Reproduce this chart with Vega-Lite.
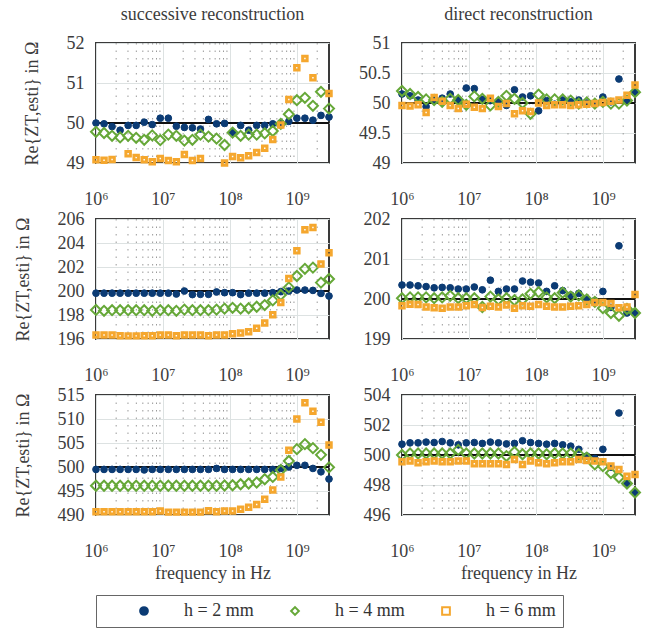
{
"$schema": "https://vega.github.io/schema/vega-lite/v6.json",
"background": "white",
"padding": {"left": 13, "top": 5, "right": 5, "bottom": 2},
"config": {
  "font": "Liberation Serif",
  "view": {"stroke": "#3a3a3a", "strokeWidth": 2},
  "axis": {"labelFont": "Liberation Serif", "titleFont": "Liberation Serif", "labelFontSize": 18, "titleFontSize": 18, "labelColor": "#3c3c3c", "titleColor": "#3c3c3c", "titleFontWeight": "normal", "domain": false, "ticks": false, "gridColor": "#dde2e2", "gridWidth": 1},
  "axisX": {"labelPadding": 27, "titlePadding": 4, "labelFlush": false},
  "axisY": {"labelPadding": 12, "titlePadding": 25},
  "title": {"font": "Liberation Serif", "fontSize": 18, "fontWeight": "normal", "color": "#3c3c3c", "frame": "group", "offset": 10},
  "legend": {"labelFont": "Liberation Serif", "labelFontSize": 18, "labelColor": "#333333", "strokeColor": "#666666", "padding": 7, "symbolStrokeWidth": 2, "symbolSize": 60, "symbolOffset": 32, "labelOffset": 31, "columnPadding": -5}
},
"datasets": {
"m": [{"f":2e6},{"f":3e6},{"f":4e6},{"f":5e6},{"f":6e6},{"f":7e6},{"f":8e6},{"f":9e6},{"f":2e7},{"f":3e7},{"f":4e7},{"f":5e7},{"f":6e7},{"f":7e7},{"f":8e7},{"f":9e7},{"f":2e8},{"f":3e8},{"f":4e8},{"f":5e8},{"f":6e8},{"f":7e8},{"f":8e8},{"f":9e8},{"f":2e9}],
"r": [{"p":1,"r":50},{"p":2,"r":50},{"p":3,"r":200},{"p":4,"r":200},{"p":5,"r":500},{"p":6,"r":500}],
"d": [
{"p":1,"h":2,"f":1e6,"v":50.0},{"p":1,"h":2,"f":1.318e6,"v":49.98},{"p":1,"h":2,"f":1.737e6,"v":49.91},{"p":1,"h":2,"f":2.29e6,"v":49.82},{"p":1,"h":2,"f":3.018e6,"v":49.94},{"p":1,"h":2,"f":3.977e6,"v":49.94},{"p":1,"h":2,"f":5.241e6,"v":50.02},{"p":1,"h":2,"f":6.908e6,"v":49.96},{"p":1,"h":2,"f":9.105e6,"v":50.12},{"p":1,"h":2,"f":1.2e7,"v":50.12},{"p":1,"h":2,"f":1.581e7,"v":49.92},{"p":1,"h":2,"f":2.084e7,"v":49.89},{"p":1,"h":2,"f":2.746e7,"v":49.88},{"p":1,"h":2,"f":3.62e7,"v":49.85},{"p":1,"h":2,"f":4.771e7,"v":50.09},{"p":1,"h":2,"f":6.288e7,"v":49.98},{"p":1,"h":2,"f":8.287e7,"v":49.99},{"p":1,"h":2,"f":1.092e8,"v":49.76},{"p":1,"h":2,"f":1.44e8,"v":49.94},{"p":1,"h":2,"f":1.897e8,"v":49.82},{"p":1,"h":2,"f":2.5e8,"v":49.94},{"p":1,"h":2,"f":3.296e8,"v":49.94},{"p":1,"h":2,"f":4.343e8,"v":49.98},{"p":1,"h":2,"f":5.724e8,"v":50.0},{"p":1,"h":2,"f":7.544e8,"v":50.04},{"p":1,"h":2,"f":9.943e8,"v":50.12},{"p":1,"h":2,"f":1.311e9,"v":50.12},{"p":1,"h":2,"f":1.727e9,"v":50.07},{"p":1,"h":2,"f":2.277e9,"v":50.19},{"p":1,"h":2,"f":3e9,"v":50.15},
{"p":1,"h":4,"f":1e6,"v":49.78},{"p":1,"h":4,"f":1.318e6,"v":49.75},{"p":1,"h":4,"f":1.737e6,"v":49.68},{"p":1,"h":4,"f":2.29e6,"v":49.64},{"p":1,"h":4,"f":3.018e6,"v":49.68},{"p":1,"h":4,"f":3.977e6,"v":49.63},{"p":1,"h":4,"f":5.241e6,"v":49.58},{"p":1,"h":4,"f":6.908e6,"v":49.69},{"p":1,"h":4,"f":9.105e6,"v":49.57},{"p":1,"h":4,"f":1.2e7,"v":49.71},{"p":1,"h":4,"f":1.581e7,"v":49.68},{"p":1,"h":4,"f":2.084e7,"v":49.56},{"p":1,"h":4,"f":2.746e7,"v":49.58},{"p":1,"h":4,"f":3.62e7,"v":49.71},{"p":1,"h":4,"f":4.771e7,"v":49.66},{"p":1,"h":4,"f":6.288e7,"v":49.61},{"p":1,"h":4,"f":8.287e7,"v":49.45},{"p":1,"h":4,"f":1.092e8,"v":49.76},{"p":1,"h":4,"f":1.44e8,"v":49.68},{"p":1,"h":4,"f":1.897e8,"v":49.71},{"p":1,"h":4,"f":2.5e8,"v":49.71},{"p":1,"h":4,"f":3.296e8,"v":49.74},{"p":1,"h":4,"f":4.343e8,"v":49.8},{"p":1,"h":4,"f":5.724e8,"v":49.98},{"p":1,"h":4,"f":7.544e8,"v":50.22},{"p":1,"h":4,"f":9.943e8,"v":50.57},{"p":1,"h":4,"f":1.311e9,"v":50.63},{"p":1,"h":4,"f":1.727e9,"v":50.43},{"p":1,"h":4,"f":2.277e9,"v":50.78},{"p":1,"h":4,"f":3e9,"v":50.36},
{"p":1,"h":6,"f":1e6,"v":49.08},{"p":1,"h":6,"f":1.318e6,"v":49.07},{"p":1,"h":6,"f":1.737e6,"v":49.09},{"p":1,"h":6,"f":3.018e6,"v":49.23},{"p":1,"h":6,"f":3.977e6,"v":49.14},{"p":1,"h":6,"f":5.241e6,"v":49.08},{"p":1,"h":6,"f":6.908e6,"v":49.03},{"p":1,"h":6,"f":9.105e6,"v":49.11},{"p":1,"h":6,"f":1.2e7,"v":49.06},{"p":1,"h":6,"f":1.581e7,"v":49.03},{"p":1,"h":6,"f":2.084e7,"v":49.21},{"p":1,"h":6,"f":2.746e7,"v":49.06},{"p":1,"h":6,"f":3.62e7,"v":49.11},{"p":1,"h":6,"f":8.287e7,"v":49.0},{"p":1,"h":6,"f":1.092e8,"v":49.16},{"p":1,"h":6,"f":1.44e8,"v":49.13},{"p":1,"h":6,"f":1.897e8,"v":49.18},{"p":1,"h":6,"f":2.5e8,"v":49.26},{"p":1,"h":6,"f":3.296e8,"v":49.37},{"p":1,"h":6,"f":4.343e8,"v":49.59},{"p":1,"h":6,"f":5.724e8,"v":49.95},{"p":1,"h":6,"f":7.544e8,"v":50.59},{"p":1,"h":6,"f":9.943e8,"v":51.38},{"p":1,"h":6,"f":1.311e9,"v":51.61},{"p":1,"h":6,"f":1.727e9,"v":51.13},{"p":1,"h":6,"f":3e9,"v":50.74},
{"p":2,"h":2,"f":1e6,"v":50.15},{"p":2,"h":2,"f":1.318e6,"v":50.12},{"p":2,"h":2,"f":1.737e6,"v":50.05},{"p":2,"h":2,"f":2.29e6,"v":49.94},{"p":2,"h":2,"f":3.018e6,"v":50.05},{"p":2,"h":2,"f":3.977e6,"v":50.08},{"p":2,"h":2,"f":5.241e6,"v":50.15},{"p":2,"h":2,"f":6.908e6,"v":50.06},{"p":2,"h":2,"f":9.105e6,"v":50.25},{"p":2,"h":2,"f":1.2e7,"v":50.24},{"p":2,"h":2,"f":1.581e7,"v":50.06},{"p":2,"h":2,"f":2.084e7,"v":50.04},{"p":2,"h":2,"f":2.746e7,"v":50.02},{"p":2,"h":2,"f":3.62e7,"v":49.96},{"p":2,"h":2,"f":4.771e7,"v":50.22},{"p":2,"h":2,"f":6.288e7,"v":50.1},{"p":2,"h":2,"f":8.287e7,"v":50.12},{"p":2,"h":2,"f":1.092e8,"v":49.87},{"p":2,"h":2,"f":1.44e8,"v":50.04},{"p":2,"h":2,"f":1.897e8,"v":49.98},{"p":2,"h":2,"f":2.5e8,"v":50.05},{"p":2,"h":2,"f":3.296e8,"v":50.02},{"p":2,"h":2,"f":4.343e8,"v":50.05},{"p":2,"h":2,"f":5.724e8,"v":50.0},{"p":2,"h":2,"f":7.544e8,"v":50.0},{"p":2,"h":2,"f":9.943e8,"v":50.1},{"p":2,"h":2,"f":1.311e9,"v":50.02},{"p":2,"h":2,"f":1.727e9,"v":50.4},{"p":2,"h":2,"f":2.277e9,"v":50.05},{"p":2,"h":2,"f":3e9,"v":50.17},
{"p":2,"h":4,"f":1e6,"v":50.2},{"p":2,"h":4,"f":1.318e6,"v":50.15},{"p":2,"h":4,"f":1.737e6,"v":50.1},{"p":2,"h":4,"f":2.29e6,"v":50.06},{"p":2,"h":4,"f":3.018e6,"v":50.05},{"p":2,"h":4,"f":3.977e6,"v":50.02},{"p":2,"h":4,"f":5.241e6,"v":50.07},{"p":2,"h":4,"f":6.908e6,"v":50.05},{"p":2,"h":4,"f":9.105e6,"v":49.97},{"p":2,"h":4,"f":1.2e7,"v":50.11},{"p":2,"h":4,"f":1.581e7,"v":50.07},{"p":2,"h":4,"f":2.084e7,"v":49.96},{"p":2,"h":4,"f":2.746e7,"v":50.02},{"p":2,"h":4,"f":3.62e7,"v":50.12},{"p":2,"h":4,"f":4.771e7,"v":50.07},{"p":2,"h":4,"f":6.288e7,"v":50.0},{"p":2,"h":4,"f":8.287e7,"v":49.82},{"p":2,"h":4,"f":1.092e8,"v":50.14},{"p":2,"h":4,"f":1.44e8,"v":50.06},{"p":2,"h":4,"f":1.897e8,"v":50.06},{"p":2,"h":4,"f":2.5e8,"v":50.06},{"p":2,"h":4,"f":3.296e8,"v":50.04},{"p":2,"h":4,"f":4.343e8,"v":49.99},{"p":2,"h":4,"f":5.724e8,"v":50.01},{"p":2,"h":4,"f":7.544e8,"v":49.99},{"p":2,"h":4,"f":9.943e8,"v":50.02},{"p":2,"h":4,"f":1.311e9,"v":49.99},{"p":2,"h":4,"f":1.727e9,"v":49.99},{"p":2,"h":4,"f":2.277e9,"v":50.04},{"p":2,"h":4,"f":3e9,"v":50.18},
{"p":2,"h":6,"f":1e6,"v":49.96},{"p":2,"h":6,"f":1.318e6,"v":49.95},{"p":2,"h":6,"f":1.737e6,"v":49.97},{"p":2,"h":6,"f":2.29e6,"v":49.84},{"p":2,"h":6,"f":3.018e6,"v":50.09},{"p":2,"h":6,"f":3.977e6,"v":50.03},{"p":2,"h":6,"f":5.241e6,"v":49.96},{"p":2,"h":6,"f":6.908e6,"v":49.91},{"p":2,"h":6,"f":9.105e6,"v":49.98},{"p":2,"h":6,"f":1.2e7,"v":49.93},{"p":2,"h":6,"f":1.581e7,"v":49.91},{"p":2,"h":6,"f":2.084e7,"v":50.08},{"p":2,"h":6,"f":2.746e7,"v":49.94},{"p":2,"h":6,"f":3.62e7,"v":49.99},{"p":2,"h":6,"f":4.771e7,"v":49.82},{"p":2,"h":6,"f":6.288e7,"v":49.87},{"p":2,"h":6,"f":8.287e7,"v":49.86},{"p":2,"h":6,"f":1.092e8,"v":50.0},{"p":2,"h":6,"f":1.44e8,"v":49.96},{"p":2,"h":6,"f":1.897e8,"v":49.97},{"p":2,"h":6,"f":2.5e8,"v":49.97},{"p":2,"h":6,"f":3.296e8,"v":49.96},{"p":2,"h":6,"f":4.343e8,"v":49.97},{"p":2,"h":6,"f":5.724e8,"v":49.98},{"p":2,"h":6,"f":7.544e8,"v":49.99},{"p":2,"h":6,"f":9.943e8,"v":50.01},{"p":2,"h":6,"f":1.311e9,"v":50.03},{"p":2,"h":6,"f":1.727e9,"v":50.05},{"p":2,"h":6,"f":2.277e9,"v":50.13},{"p":2,"h":6,"f":3e9,"v":50.3},
{"p":3,"h":2,"f":1e6,"v":199.82},{"p":3,"h":2,"f":1.318e6,"v":199.82},{"p":3,"h":2,"f":1.737e6,"v":199.82},{"p":3,"h":2,"f":2.29e6,"v":199.82},{"p":3,"h":2,"f":3.018e6,"v":199.82},{"p":3,"h":2,"f":3.977e6,"v":199.82},{"p":3,"h":2,"f":5.241e6,"v":199.82},{"p":3,"h":2,"f":6.908e6,"v":199.82},{"p":3,"h":2,"f":9.105e6,"v":199.82},{"p":3,"h":2,"f":1.2e7,"v":199.82},{"p":3,"h":2,"f":1.581e7,"v":199.75},{"p":3,"h":2,"f":2.084e7,"v":200.0},{"p":3,"h":2,"f":2.746e7,"v":199.7},{"p":3,"h":2,"f":3.62e7,"v":199.72},{"p":3,"h":2,"f":4.771e7,"v":199.72},{"p":3,"h":2,"f":6.288e7,"v":199.92},{"p":3,"h":2,"f":8.287e7,"v":199.86},{"p":3,"h":2,"f":1.092e8,"v":199.86},{"p":3,"h":2,"f":1.44e8,"v":199.7},{"p":3,"h":2,"f":1.897e8,"v":199.82},{"p":3,"h":2,"f":2.5e8,"v":199.82},{"p":3,"h":2,"f":3.296e8,"v":199.82},{"p":3,"h":2,"f":4.343e8,"v":199.86},{"p":3,"h":2,"f":5.724e8,"v":199.95},{"p":3,"h":2,"f":7.544e8,"v":200.0},{"p":3,"h":2,"f":9.943e8,"v":200.08},{"p":3,"h":2,"f":1.311e9,"v":200.08},{"p":3,"h":2,"f":1.727e9,"v":200.05},{"p":3,"h":2,"f":2.277e9,"v":199.8},{"p":3,"h":2,"f":3e9,"v":199.58},
{"p":3,"h":4,"f":1e6,"v":198.42},{"p":3,"h":4,"f":1.318e6,"v":198.35},{"p":3,"h":4,"f":1.737e6,"v":198.4},{"p":3,"h":4,"f":2.29e6,"v":198.4},{"p":3,"h":4,"f":3.018e6,"v":198.4},{"p":3,"h":4,"f":3.977e6,"v":198.4},{"p":3,"h":4,"f":5.241e6,"v":198.4},{"p":3,"h":4,"f":6.908e6,"v":198.35},{"p":3,"h":4,"f":9.105e6,"v":198.4},{"p":3,"h":4,"f":1.2e7,"v":198.4},{"p":3,"h":4,"f":1.581e7,"v":198.35},{"p":3,"h":4,"f":2.084e7,"v":198.45},{"p":3,"h":4,"f":2.746e7,"v":198.4},{"p":3,"h":4,"f":3.62e7,"v":198.4},{"p":3,"h":4,"f":4.771e7,"v":198.4},{"p":3,"h":4,"f":6.288e7,"v":198.45},{"p":3,"h":4,"f":8.287e7,"v":198.53},{"p":3,"h":4,"f":1.092e8,"v":198.6},{"p":3,"h":4,"f":1.44e8,"v":198.53},{"p":3,"h":4,"f":1.897e8,"v":198.56},{"p":3,"h":4,"f":2.5e8,"v":198.69},{"p":3,"h":4,"f":3.296e8,"v":198.83},{"p":3,"h":4,"f":4.343e8,"v":199.22},{"p":3,"h":4,"f":5.724e8,"v":199.67},{"p":3,"h":4,"f":7.544e8,"v":200.3},{"p":3,"h":4,"f":9.943e8,"v":201.25},{"p":3,"h":4,"f":1.311e9,"v":201.85},{"p":3,"h":4,"f":1.727e9,"v":201.95},{"p":3,"h":4,"f":2.277e9,"v":200.7},{"p":3,"h":4,"f":3e9,"v":201.0},
{"p":3,"h":6,"f":1e6,"v":196.33},{"p":3,"h":6,"f":1.318e6,"v":196.33},{"p":3,"h":6,"f":1.737e6,"v":196.33},{"p":3,"h":6,"f":2.29e6,"v":196.28},{"p":3,"h":6,"f":3.018e6,"v":196.26},{"p":3,"h":6,"f":3.977e6,"v":196.26},{"p":3,"h":6,"f":5.241e6,"v":196.28},{"p":3,"h":6,"f":6.908e6,"v":196.28},{"p":3,"h":6,"f":9.105e6,"v":196.33},{"p":3,"h":6,"f":1.2e7,"v":196.33},{"p":3,"h":6,"f":1.581e7,"v":196.28},{"p":3,"h":6,"f":2.084e7,"v":196.33},{"p":3,"h":6,"f":2.746e7,"v":196.33},{"p":3,"h":6,"f":3.62e7,"v":196.33},{"p":3,"h":6,"f":4.771e7,"v":196.28},{"p":3,"h":6,"f":6.288e7,"v":196.33},{"p":3,"h":6,"f":8.287e7,"v":196.33},{"p":3,"h":6,"f":1.092e8,"v":196.44},{"p":3,"h":6,"f":1.44e8,"v":196.5},{"p":3,"h":6,"f":1.897e8,"v":196.61},{"p":3,"h":6,"f":2.5e8,"v":196.89},{"p":3,"h":6,"f":3.296e8,"v":197.33},{"p":3,"h":6,"f":4.343e8,"v":198.03},{"p":3,"h":6,"f":5.724e8,"v":199.05},{"p":3,"h":6,"f":7.544e8,"v":201.05},{"p":3,"h":6,"f":9.943e8,"v":203.35},{"p":3,"h":6,"f":1.311e9,"v":205.1},{"p":3,"h":6,"f":1.727e9,"v":205.3},{"p":3,"h":6,"f":2.277e9,"v":202.25},{"p":3,"h":6,"f":3e9,"v":203.18},
{"p":4,"h":2,"f":1e6,"v":200.35},{"p":4,"h":2,"f":1.318e6,"v":200.35},{"p":4,"h":2,"f":1.737e6,"v":200.33},{"p":4,"h":2,"f":2.29e6,"v":200.31},{"p":4,"h":2,"f":3.018e6,"v":200.28},{"p":4,"h":2,"f":3.977e6,"v":200.29},{"p":4,"h":2,"f":5.241e6,"v":200.28},{"p":4,"h":2,"f":6.908e6,"v":200.25},{"p":4,"h":2,"f":9.105e6,"v":200.25},{"p":4,"h":2,"f":1.2e7,"v":200.3},{"p":4,"h":2,"f":1.581e7,"v":200.23},{"p":4,"h":2,"f":2.084e7,"v":200.47},{"p":4,"h":2,"f":2.746e7,"v":200.19},{"p":4,"h":2,"f":3.62e7,"v":200.25},{"p":4,"h":2,"f":4.771e7,"v":200.25},{"p":4,"h":2,"f":6.288e7,"v":200.45},{"p":4,"h":2,"f":8.287e7,"v":200.42},{"p":4,"h":2,"f":1.092e8,"v":200.4},{"p":4,"h":2,"f":1.44e8,"v":200.19},{"p":4,"h":2,"f":1.897e8,"v":200.33},{"p":4,"h":2,"f":2.5e8,"v":200.21},{"p":4,"h":2,"f":3.296e8,"v":200.1},{"p":4,"h":2,"f":4.343e8,"v":200.14},{"p":4,"h":2,"f":5.724e8,"v":199.99},{"p":4,"h":2,"f":7.544e8,"v":199.96},{"p":4,"h":2,"f":9.943e8,"v":200.19},{"p":4,"h":2,"f":1.311e9,"v":199.79},{"p":4,"h":2,"f":1.727e9,"v":201.33},{"p":4,"h":2,"f":2.277e9,"v":199.65},{"p":4,"h":2,"f":3e9,"v":199.65},
{"p":4,"h":4,"f":1e6,"v":200.02},{"p":4,"h":4,"f":1.318e6,"v":200.04},{"p":4,"h":4,"f":1.737e6,"v":200.04},{"p":4,"h":4,"f":2.29e6,"v":200.04},{"p":4,"h":4,"f":3.018e6,"v":200.02},{"p":4,"h":4,"f":3.977e6,"v":200.04},{"p":4,"h":4,"f":5.241e6,"v":200.08},{"p":4,"h":4,"f":6.908e6,"v":200.02},{"p":4,"h":4,"f":9.105e6,"v":200.02},{"p":4,"h":4,"f":1.2e7,"v":200.02},{"p":4,"h":4,"f":1.581e7,"v":199.8},{"p":4,"h":4,"f":2.084e7,"v":200.06},{"p":4,"h":4,"f":2.746e7,"v":199.99},{"p":4,"h":4,"f":3.62e7,"v":200.02},{"p":4,"h":4,"f":4.771e7,"v":199.97},{"p":4,"h":4,"f":6.288e7,"v":199.99},{"p":4,"h":4,"f":8.287e7,"v":200.13},{"p":4,"h":4,"f":1.092e8,"v":200.17},{"p":4,"h":4,"f":1.44e8,"v":200.04},{"p":4,"h":4,"f":1.897e8,"v":200.02},{"p":4,"h":4,"f":2.5e8,"v":200.16},{"p":4,"h":4,"f":3.296e8,"v":200.06},{"p":4,"h":4,"f":4.343e8,"v":200.09},{"p":4,"h":4,"f":5.724e8,"v":199.99},{"p":4,"h":4,"f":7.544e8,"v":199.93},{"p":4,"h":4,"f":9.943e8,"v":199.77},{"p":4,"h":4,"f":1.311e9,"v":199.65},{"p":4,"h":4,"f":1.727e9,"v":199.58},{"p":4,"h":4,"f":2.277e9,"v":199.75},{"p":4,"h":4,"f":3e9,"v":199.65},
{"p":4,"h":6,"f":1e6,"v":199.83},{"p":4,"h":6,"f":1.318e6,"v":199.87},{"p":4,"h":6,"f":1.737e6,"v":199.86},{"p":4,"h":6,"f":2.29e6,"v":199.8},{"p":4,"h":6,"f":3.018e6,"v":199.78},{"p":4,"h":6,"f":3.977e6,"v":199.77},{"p":4,"h":6,"f":5.241e6,"v":199.8},{"p":4,"h":6,"f":6.908e6,"v":199.8},{"p":4,"h":6,"f":9.105e6,"v":199.83},{"p":4,"h":6,"f":1.2e7,"v":199.86},{"p":4,"h":6,"f":1.581e7,"v":199.79},{"p":4,"h":6,"f":2.084e7,"v":199.82},{"p":4,"h":6,"f":2.746e7,"v":199.8},{"p":4,"h":6,"f":3.62e7,"v":199.85},{"p":4,"h":6,"f":4.771e7,"v":199.77},{"p":4,"h":6,"f":6.288e7,"v":199.83},{"p":4,"h":6,"f":8.287e7,"v":199.82},{"p":4,"h":6,"f":1.092e8,"v":199.86},{"p":4,"h":6,"f":1.44e8,"v":199.82},{"p":4,"h":6,"f":1.897e8,"v":199.8},{"p":4,"h":6,"f":2.5e8,"v":199.8},{"p":4,"h":6,"f":3.296e8,"v":199.82},{"p":4,"h":6,"f":4.343e8,"v":199.83},{"p":4,"h":6,"f":5.724e8,"v":199.86},{"p":4,"h":6,"f":7.544e8,"v":199.91},{"p":4,"h":6,"f":9.943e8,"v":199.91},{"p":4,"h":6,"f":1.311e9,"v":199.89},{"p":4,"h":6,"f":1.727e9,"v":199.78},{"p":4,"h":6,"f":2.277e9,"v":199.8},{"p":4,"h":6,"f":3e9,"v":200.11},
{"p":5,"h":2,"f":1e6,"v":499.5},{"p":5,"h":2,"f":1.318e6,"v":499.5},{"p":5,"h":2,"f":1.737e6,"v":499.5},{"p":5,"h":2,"f":2.29e6,"v":499.5},{"p":5,"h":2,"f":3.018e6,"v":499.5},{"p":5,"h":2,"f":3.977e6,"v":499.5},{"p":5,"h":2,"f":5.241e6,"v":499.4},{"p":5,"h":2,"f":6.908e6,"v":499.5},{"p":5,"h":2,"f":9.105e6,"v":499.5},{"p":5,"h":2,"f":1.2e7,"v":499.5},{"p":5,"h":2,"f":1.581e7,"v":499.5},{"p":5,"h":2,"f":2.084e7,"v":499.5},{"p":5,"h":2,"f":2.746e7,"v":499.5},{"p":5,"h":2,"f":3.62e7,"v":499.5},{"p":5,"h":2,"f":4.771e7,"v":499.5},{"p":5,"h":2,"f":6.288e7,"v":499.7},{"p":5,"h":2,"f":8.287e7,"v":499.5},{"p":5,"h":2,"f":1.092e8,"v":499.5},{"p":5,"h":2,"f":1.44e8,"v":499.5},{"p":5,"h":2,"f":1.897e8,"v":499.5},{"p":5,"h":2,"f":2.5e8,"v":499.5},{"p":5,"h":2,"f":3.296e8,"v":499.5},{"p":5,"h":2,"f":4.343e8,"v":499.5},{"p":5,"h":2,"f":5.724e8,"v":499.7},{"p":5,"h":2,"f":7.544e8,"v":500.0},{"p":5,"h":2,"f":9.943e8,"v":500.35},{"p":5,"h":2,"f":1.311e9,"v":500.35},{"p":5,"h":2,"f":1.727e9,"v":499.7},{"p":5,"h":2,"f":2.277e9,"v":499.0},{"p":5,"h":2,"f":3e9,"v":497.5},
{"p":5,"h":4,"f":1e6,"v":496.1},{"p":5,"h":4,"f":1.318e6,"v":496.1},{"p":5,"h":4,"f":1.737e6,"v":496.1},{"p":5,"h":4,"f":2.29e6,"v":496.1},{"p":5,"h":4,"f":3.018e6,"v":496.1},{"p":5,"h":4,"f":3.977e6,"v":496.1},{"p":5,"h":4,"f":5.241e6,"v":496.1},{"p":5,"h":4,"f":6.908e6,"v":496.1},{"p":5,"h":4,"f":9.105e6,"v":496.1},{"p":5,"h":4,"f":1.2e7,"v":496.1},{"p":5,"h":4,"f":1.581e7,"v":496.1},{"p":5,"h":4,"f":2.084e7,"v":496.1},{"p":5,"h":4,"f":2.746e7,"v":496.1},{"p":5,"h":4,"f":3.62e7,"v":496.1},{"p":5,"h":4,"f":4.771e7,"v":496.1},{"p":5,"h":4,"f":6.288e7,"v":496.1},{"p":5,"h":4,"f":8.287e7,"v":496.15},{"p":5,"h":4,"f":1.092e8,"v":496.2},{"p":5,"h":4,"f":1.44e8,"v":496.4},{"p":5,"h":4,"f":1.897e8,"v":496.56},{"p":5,"h":4,"f":2.5e8,"v":496.77},{"p":5,"h":4,"f":3.296e8,"v":497.44},{"p":5,"h":4,"f":4.343e8,"v":497.93},{"p":5,"h":4,"f":5.724e8,"v":499.37},{"p":5,"h":4,"f":7.544e8,"v":501.26},{"p":5,"h":4,"f":9.943e8,"v":503.72},{"p":5,"h":4,"f":1.311e9,"v":504.77},{"p":5,"h":4,"f":1.727e9,"v":503.93},{"p":5,"h":4,"f":2.277e9,"v":502.53},{"p":5,"h":4,"f":3e9,"v":499.93},
{"p":5,"h":6,"f":1e6,"v":490.7},{"p":5,"h":6,"f":1.318e6,"v":490.7},{"p":5,"h":6,"f":1.737e6,"v":490.7},{"p":5,"h":6,"f":2.29e6,"v":490.7},{"p":5,"h":6,"f":3.018e6,"v":490.7},{"p":5,"h":6,"f":3.977e6,"v":490.7},{"p":5,"h":6,"f":5.241e6,"v":490.7},{"p":5,"h":6,"f":6.908e6,"v":490.7},{"p":5,"h":6,"f":9.105e6,"v":490.85},{"p":5,"h":6,"f":1.2e7,"v":490.6},{"p":5,"h":6,"f":1.581e7,"v":490.6},{"p":5,"h":6,"f":2.084e7,"v":490.6},{"p":5,"h":6,"f":2.746e7,"v":490.6},{"p":5,"h":6,"f":3.62e7,"v":490.6},{"p":5,"h":6,"f":4.771e7,"v":490.9},{"p":5,"h":6,"f":6.288e7,"v":490.7},{"p":5,"h":6,"f":8.287e7,"v":490.85},{"p":5,"h":6,"f":1.092e8,"v":490.85},{"p":5,"h":6,"f":1.44e8,"v":491.2},{"p":5,"h":6,"f":1.897e8,"v":491.6},{"p":5,"h":6,"f":2.5e8,"v":492.2},{"p":5,"h":6,"f":3.296e8,"v":493.3},{"p":5,"h":6,"f":4.343e8,"v":495.2},{"p":5,"h":6,"f":5.724e8,"v":497.9},{"p":5,"h":6,"f":7.544e8,"v":503.5},{"p":5,"h":6,"f":9.943e8,"v":510.0},{"p":5,"h":6,"f":1.311e9,"v":513.4},{"p":5,"h":6,"f":1.727e9,"v":511.6},{"p":5,"h":6,"f":2.277e9,"v":509.3},{"p":5,"h":6,"f":3e9,"v":504.6},
{"p":6,"h":2,"f":1e6,"v":500.72},{"p":6,"h":2,"f":1.318e6,"v":500.81},{"p":6,"h":2,"f":1.737e6,"v":500.81},{"p":6,"h":2,"f":2.29e6,"v":500.86},{"p":6,"h":2,"f":3.018e6,"v":500.83},{"p":6,"h":2,"f":3.977e6,"v":500.9},{"p":6,"h":2,"f":5.241e6,"v":500.81},{"p":6,"h":2,"f":6.908e6,"v":500.68},{"p":6,"h":2,"f":9.105e6,"v":500.81},{"p":6,"h":2,"f":1.2e7,"v":500.83},{"p":6,"h":2,"f":1.581e7,"v":500.77},{"p":6,"h":2,"f":2.084e7,"v":500.86},{"p":6,"h":2,"f":2.746e7,"v":500.81},{"p":6,"h":2,"f":3.62e7,"v":500.74},{"p":6,"h":2,"f":4.771e7,"v":500.77},{"p":6,"h":2,"f":6.288e7,"v":500.95},{"p":6,"h":2,"f":8.287e7,"v":500.83},{"p":6,"h":2,"f":1.092e8,"v":500.77},{"p":6,"h":2,"f":1.44e8,"v":500.72},{"p":6,"h":2,"f":1.897e8,"v":500.77},{"p":6,"h":2,"f":2.5e8,"v":500.68},{"p":6,"h":2,"f":3.296e8,"v":500.59},{"p":6,"h":2,"f":4.343e8,"v":500.38},{"p":6,"h":2,"f":5.724e8,"v":499.93},{"p":6,"h":2,"f":7.544e8,"v":499.77},{"p":6,"h":2,"f":9.943e8,"v":500.38},{"p":6,"h":2,"f":1.311e9,"v":499.19},{"p":6,"h":2,"f":1.727e9,"v":502.8},{"p":6,"h":2,"f":2.277e9,"v":498.13},{"p":6,"h":2,"f":3e9,"v":497.5},
{"p":6,"h":4,"f":1e6,"v":500.0},{"p":6,"h":4,"f":1.318e6,"v":500.1},{"p":6,"h":4,"f":1.737e6,"v":500.1},{"p":6,"h":4,"f":2.29e6,"v":500.1},{"p":6,"h":4,"f":3.018e6,"v":500.1},{"p":6,"h":4,"f":3.977e6,"v":500.1},{"p":6,"h":4,"f":5.241e6,"v":500.1},{"p":6,"h":4,"f":6.908e6,"v":500.34},{"p":6,"h":4,"f":9.105e6,"v":500.1},{"p":6,"h":4,"f":1.2e7,"v":500.1},{"p":6,"h":4,"f":1.581e7,"v":500.1},{"p":6,"h":4,"f":2.084e7,"v":500.1},{"p":6,"h":4,"f":2.746e7,"v":500.1},{"p":6,"h":4,"f":3.62e7,"v":499.93},{"p":6,"h":4,"f":4.771e7,"v":500.2},{"p":6,"h":4,"f":6.288e7,"v":500.05},{"p":6,"h":4,"f":8.287e7,"v":500.1},{"p":6,"h":4,"f":1.092e8,"v":500.1},{"p":6,"h":4,"f":1.44e8,"v":500.05},{"p":6,"h":4,"f":1.897e8,"v":500.1},{"p":6,"h":4,"f":2.5e8,"v":500.1},{"p":6,"h":4,"f":3.296e8,"v":500.1},{"p":6,"h":4,"f":4.343e8,"v":500.05},{"p":6,"h":4,"f":5.724e8,"v":499.82},{"p":6,"h":4,"f":7.544e8,"v":499.37},{"p":6,"h":4,"f":9.943e8,"v":499.26},{"p":6,"h":4,"f":1.311e9,"v":498.8},{"p":6,"h":4,"f":1.727e9,"v":498.5},{"p":6,"h":4,"f":2.277e9,"v":498.1},{"p":6,"h":4,"f":3e9,"v":497.5},
{"p":6,"h":6,"f":1e6,"v":499.55},{"p":6,"h":6,"f":1.318e6,"v":499.6},{"p":6,"h":6,"f":1.737e6,"v":499.48},{"p":6,"h":6,"f":2.29e6,"v":499.55},{"p":6,"h":6,"f":3.018e6,"v":499.6},{"p":6,"h":6,"f":3.977e6,"v":499.55},{"p":6,"h":6,"f":5.241e6,"v":499.55},{"p":6,"h":6,"f":6.908e6,"v":499.6},{"p":6,"h":6,"f":9.105e6,"v":499.6},{"p":6,"h":6,"f":1.2e7,"v":499.41},{"p":6,"h":6,"f":1.581e7,"v":499.41},{"p":6,"h":6,"f":2.084e7,"v":499.41},{"p":6,"h":6,"f":2.746e7,"v":499.41},{"p":6,"h":6,"f":3.62e7,"v":499.37},{"p":6,"h":6,"f":4.771e7,"v":499.7},{"p":6,"h":6,"f":6.288e7,"v":499.37},{"p":6,"h":6,"f":8.287e7,"v":499.6},{"p":6,"h":6,"f":1.092e8,"v":499.48},{"p":6,"h":6,"f":1.44e8,"v":499.41},{"p":6,"h":6,"f":1.897e8,"v":499.48},{"p":6,"h":6,"f":2.5e8,"v":499.55},{"p":6,"h":6,"f":3.296e8,"v":499.55},{"p":6,"h":6,"f":4.343e8,"v":499.7},{"p":6,"h":6,"f":5.724e8,"v":499.64},{"p":6,"h":6,"f":7.544e8,"v":499.6},{"p":6,"h":6,"f":9.943e8,"v":499.55},{"p":6,"h":6,"f":1.311e9,"v":499.26},{"p":6,"h":6,"f":1.727e9,"v":499.03},{"p":6,"h":6,"f":2.277e9,"v":498.58},{"p":6,"h":6,"f":3e9,"v":498.7}
]
},
"columns": 2,
"bounds": "flush",
"spacing": {"row": 56, "column": 73},
"concat": [
{"width": 233, "height": 120, "title": {"text": "successive reconstruction"},
 "layer": [
  {"data": {"name": "m"}, "mark": {"type": "rule", "color": "#9a9a9a", "strokeWidth": 1, "strokeDash": [1.5, 6]}, "encoding": {"x": {"field": "f", "type": "quantitative", "scale": {"type": "log", "domain": [1e6, 3e9]}, "axis": {"values": [1e6, 1e7, 1e8, 1e9], "labelExpr": "datum.value < 5e6 ? '10⁶' : datum.value < 5e7 ? '10⁷' : datum.value < 5e8 ? '10⁸' : '10⁹'", "title": null}}}},
  {"data": {"name": "r"}, "transform": [{"filter": "datum.p == 1"}], "mark": {"type": "rule", "color": "#111111", "strokeWidth": 2}, "encoding": {"y": {"field": "r", "type": "quantitative", "scale": {"domain": [49, 52], "zero": false, "nice": false}, "axis": {"values": [49, 50, 51, 52], "format": "~g", "title": "Re{ZT,esti} in Ω"}}}},
  {"data": {"name": "d"}, "transform": [{"filter": "datum.p == 1"}], "mark": {"type": "point", "opacity": 1},
   "encoding": {
    "x": {"field": "f", "type": "quantitative", "scale": {"type": "log", "domain": [1e6, 3e9]}, "axis": {"values": [1e6, 1e7, 1e8, 1e9], "labelExpr": "datum.value < 5e6 ? '10⁶' : datum.value < 5e7 ? '10⁷' : datum.value < 5e8 ? '10⁸' : '10⁹'", "title": null}},
    "y": {"field": "v", "type": "quantitative", "scale": {"domain": [49, 52], "zero": false, "nice": false}, "axis": {"values": [49, 50, 51, 52], "format": "~g", "title": "Re{ZT,esti} in Ω"}},
    "shape": {"field": "h", "type": "ordinal", "scale": {"domain": [2, 4, 6], "range": ["circle", "diamond", "square"]}, "legend": {"orient": "none", "legendX": 0, "legendY": 552, "direction": "horizontal", "title": null, "labelExpr": "'h = ' + datum.label + ' mm'"}},
    "stroke": {"field": "h", "type": "ordinal", "scale": {"domain": [2, 4, 6], "range": ["#0b3b74", "#66a838", "#f5a72e"]}, "legend": {"orient": "none", "legendX": 0, "legendY": 552, "direction": "horizontal", "title": null, "labelExpr": "'h = ' + datum.label + ' mm'"}},
    "fill": {"field": "h", "type": "ordinal", "scale": {"domain": [2, 4, 6], "range": ["#0b3b74", "transparent", "transparent"]}, "legend": {"orient": "none", "legendX": 0, "legendY": 552, "direction": "horizontal", "title": null, "labelExpr": "'h = ' + datum.label + ' mm'"}},
    "size": {"field": "h", "type": "quantitative", "scale": {"domain": [2, 4, 6, 7], "range": [45, 100, 20, 20]}, "legend": null},
    "strokeWidth": {"field": "h", "type": "quantitative", "scale": {"domain": [2, 4, 6, 8], "range": [1, 2, 3, 3]}, "legend": null}
   }}
 ]},
{"width": 233, "height": 120, "title": {"text": "direct reconstruction"},
 "layer": [
  {"data": {"name": "m"}, "mark": {"type": "rule", "color": "#9a9a9a", "strokeWidth": 1, "strokeDash": [1.5, 6]}, "encoding": {"x": {"field": "f", "type": "quantitative", "scale": {"type": "log", "domain": [1e6, 3e9]}, "axis": {"values": [1e6, 1e7, 1e8, 1e9], "labelExpr": "datum.value < 5e6 ? '10⁶' : datum.value < 5e7 ? '10⁷' : datum.value < 5e8 ? '10⁸' : '10⁹'", "title": null}}}},
  {"data": {"name": "r"}, "transform": [{"filter": "datum.p == 2"}], "mark": {"type": "rule", "color": "#111111", "strokeWidth": 2}, "encoding": {"y": {"field": "r", "type": "quantitative", "scale": {"domain": [49, 51], "zero": false, "nice": false}, "axis": {"values": [49, 49.5, 50, 50.5, 51], "format": "~g", "title": null}}}},
  {"data": {"name": "d"}, "transform": [{"filter": "datum.p == 2"}], "mark": {"type": "point", "opacity": 1},
   "encoding": {
    "x": {"field": "f", "type": "quantitative", "scale": {"type": "log", "domain": [1e6, 3e9]}, "axis": {"values": [1e6, 1e7, 1e8, 1e9], "labelExpr": "datum.value < 5e6 ? '10⁶' : datum.value < 5e7 ? '10⁷' : datum.value < 5e8 ? '10⁸' : '10⁹'", "title": null}},
    "y": {"field": "v", "type": "quantitative", "scale": {"domain": [49, 51], "zero": false, "nice": false}, "axis": {"values": [49, 49.5, 50, 50.5, 51], "format": "~g", "title": null}},
    "shape": {"field": "h", "type": "ordinal", "scale": {"domain": [2, 4, 6], "range": ["circle", "diamond", "square"]}, "legend": {"orient": "none", "legendX": 0, "legendY": 552, "direction": "horizontal", "title": null, "labelExpr": "'h = ' + datum.label + ' mm'"}},
    "stroke": {"field": "h", "type": "ordinal", "scale": {"domain": [2, 4, 6], "range": ["#0b3b74", "#66a838", "#f5a72e"]}, "legend": {"orient": "none", "legendX": 0, "legendY": 552, "direction": "horizontal", "title": null, "labelExpr": "'h = ' + datum.label + ' mm'"}},
    "fill": {"field": "h", "type": "ordinal", "scale": {"domain": [2, 4, 6], "range": ["#0b3b74", "transparent", "transparent"]}, "legend": {"orient": "none", "legendX": 0, "legendY": 552, "direction": "horizontal", "title": null, "labelExpr": "'h = ' + datum.label + ' mm'"}},
    "size": {"field": "h", "type": "quantitative", "scale": {"domain": [2, 4, 6, 7], "range": [45, 100, 20, 20]}, "legend": null},
    "strokeWidth": {"field": "h", "type": "quantitative", "scale": {"domain": [2, 4, 6, 8], "range": [1, 2, 3, 3]}, "legend": null}
   }}
 ]},
{"width": 233, "height": 120,
 "layer": [
  {"data": {"name": "m"}, "mark": {"type": "rule", "color": "#9a9a9a", "strokeWidth": 1, "strokeDash": [1.5, 6]}, "encoding": {"x": {"field": "f", "type": "quantitative", "scale": {"type": "log", "domain": [1e6, 3e9]}, "axis": {"values": [1e6, 1e7, 1e8, 1e9], "labelExpr": "datum.value < 5e6 ? '10⁶' : datum.value < 5e7 ? '10⁷' : datum.value < 5e8 ? '10⁸' : '10⁹'", "title": null}}}},
  {"data": {"name": "r"}, "transform": [{"filter": "datum.p == 3"}], "mark": {"type": "rule", "color": "#111111", "strokeWidth": 2}, "encoding": {"y": {"field": "r", "type": "quantitative", "scale": {"domain": [196, 206], "zero": false, "nice": false}, "axis": {"values": [196, 198, 200, 202, 204, 206], "format": "~g", "title": "Re{ZT,esti} in Ω"}}}},
  {"data": {"name": "d"}, "transform": [{"filter": "datum.p == 3"}], "mark": {"type": "point", "opacity": 1},
   "encoding": {
    "x": {"field": "f", "type": "quantitative", "scale": {"type": "log", "domain": [1e6, 3e9]}, "axis": {"values": [1e6, 1e7, 1e8, 1e9], "labelExpr": "datum.value < 5e6 ? '10⁶' : datum.value < 5e7 ? '10⁷' : datum.value < 5e8 ? '10⁸' : '10⁹'", "title": null}},
    "y": {"field": "v", "type": "quantitative", "scale": {"domain": [196, 206], "zero": false, "nice": false}, "axis": {"values": [196, 198, 200, 202, 204, 206], "format": "~g", "title": "Re{ZT,esti} in Ω"}},
    "shape": {"field": "h", "type": "ordinal", "scale": {"domain": [2, 4, 6], "range": ["circle", "diamond", "square"]}, "legend": {"orient": "none", "legendX": 0, "legendY": 552, "direction": "horizontal", "title": null, "labelExpr": "'h = ' + datum.label + ' mm'"}},
    "stroke": {"field": "h", "type": "ordinal", "scale": {"domain": [2, 4, 6], "range": ["#0b3b74", "#66a838", "#f5a72e"]}, "legend": {"orient": "none", "legendX": 0, "legendY": 552, "direction": "horizontal", "title": null, "labelExpr": "'h = ' + datum.label + ' mm'"}},
    "fill": {"field": "h", "type": "ordinal", "scale": {"domain": [2, 4, 6], "range": ["#0b3b74", "transparent", "transparent"]}, "legend": {"orient": "none", "legendX": 0, "legendY": 552, "direction": "horizontal", "title": null, "labelExpr": "'h = ' + datum.label + ' mm'"}},
    "size": {"field": "h", "type": "quantitative", "scale": {"domain": [2, 4, 6, 7], "range": [45, 100, 20, 20]}, "legend": null},
    "strokeWidth": {"field": "h", "type": "quantitative", "scale": {"domain": [2, 4, 6, 8], "range": [1, 2, 3, 3]}, "legend": null}
   }}
 ]},
{"width": 233, "height": 120,
 "layer": [
  {"data": {"name": "m"}, "mark": {"type": "rule", "color": "#9a9a9a", "strokeWidth": 1, "strokeDash": [1.5, 6]}, "encoding": {"x": {"field": "f", "type": "quantitative", "scale": {"type": "log", "domain": [1e6, 3e9]}, "axis": {"values": [1e6, 1e7, 1e8, 1e9], "labelExpr": "datum.value < 5e6 ? '10⁶' : datum.value < 5e7 ? '10⁷' : datum.value < 5e8 ? '10⁸' : '10⁹'", "title": null}}}},
  {"data": {"name": "r"}, "transform": [{"filter": "datum.p == 4"}], "mark": {"type": "rule", "color": "#111111", "strokeWidth": 2}, "encoding": {"y": {"field": "r", "type": "quantitative", "scale": {"domain": [199, 202], "zero": false, "nice": false}, "axis": {"values": [199, 200, 201, 202], "format": "~g", "title": null}}}},
  {"data": {"name": "d"}, "transform": [{"filter": "datum.p == 4"}], "mark": {"type": "point", "opacity": 1},
   "encoding": {
    "x": {"field": "f", "type": "quantitative", "scale": {"type": "log", "domain": [1e6, 3e9]}, "axis": {"values": [1e6, 1e7, 1e8, 1e9], "labelExpr": "datum.value < 5e6 ? '10⁶' : datum.value < 5e7 ? '10⁷' : datum.value < 5e8 ? '10⁸' : '10⁹'", "title": null}},
    "y": {"field": "v", "type": "quantitative", "scale": {"domain": [199, 202], "zero": false, "nice": false}, "axis": {"values": [199, 200, 201, 202], "format": "~g", "title": null}},
    "shape": {"field": "h", "type": "ordinal", "scale": {"domain": [2, 4, 6], "range": ["circle", "diamond", "square"]}, "legend": {"orient": "none", "legendX": 0, "legendY": 552, "direction": "horizontal", "title": null, "labelExpr": "'h = ' + datum.label + ' mm'"}},
    "stroke": {"field": "h", "type": "ordinal", "scale": {"domain": [2, 4, 6], "range": ["#0b3b74", "#66a838", "#f5a72e"]}, "legend": {"orient": "none", "legendX": 0, "legendY": 552, "direction": "horizontal", "title": null, "labelExpr": "'h = ' + datum.label + ' mm'"}},
    "fill": {"field": "h", "type": "ordinal", "scale": {"domain": [2, 4, 6], "range": ["#0b3b74", "transparent", "transparent"]}, "legend": {"orient": "none", "legendX": 0, "legendY": 552, "direction": "horizontal", "title": null, "labelExpr": "'h = ' + datum.label + ' mm'"}},
    "size": {"field": "h", "type": "quantitative", "scale": {"domain": [2, 4, 6, 7], "range": [45, 100, 20, 20]}, "legend": null},
    "strokeWidth": {"field": "h", "type": "quantitative", "scale": {"domain": [2, 4, 6, 8], "range": [1, 2, 3, 3]}, "legend": null}
   }}
 ]},
{"width": 233, "height": 120,
 "layer": [
  {"data": {"name": "m"}, "mark": {"type": "rule", "color": "#9a9a9a", "strokeWidth": 1, "strokeDash": [1.5, 6]}, "encoding": {"x": {"field": "f", "type": "quantitative", "scale": {"type": "log", "domain": [1e6, 3e9]}, "axis": {"values": [1e6, 1e7, 1e8, 1e9], "labelExpr": "datum.value < 5e6 ? '10⁶' : datum.value < 5e7 ? '10⁷' : datum.value < 5e8 ? '10⁸' : '10⁹'", "title": "frequency in Hz"}}}},
  {"data": {"name": "r"}, "transform": [{"filter": "datum.p == 5"}], "mark": {"type": "rule", "color": "#111111", "strokeWidth": 2}, "encoding": {"y": {"field": "r", "type": "quantitative", "scale": {"domain": [490, 515], "zero": false, "nice": false}, "axis": {"values": [490, 495, 500, 505, 510, 515], "format": "~g", "title": "Re{ZT,esti} in Ω"}}}},
  {"data": {"name": "d"}, "transform": [{"filter": "datum.p == 5"}], "mark": {"type": "point", "opacity": 1},
   "encoding": {
    "x": {"field": "f", "type": "quantitative", "scale": {"type": "log", "domain": [1e6, 3e9]}, "axis": {"values": [1e6, 1e7, 1e8, 1e9], "labelExpr": "datum.value < 5e6 ? '10⁶' : datum.value < 5e7 ? '10⁷' : datum.value < 5e8 ? '10⁸' : '10⁹'", "title": "frequency in Hz"}},
    "y": {"field": "v", "type": "quantitative", "scale": {"domain": [490, 515], "zero": false, "nice": false}, "axis": {"values": [490, 495, 500, 505, 510, 515], "format": "~g", "title": "Re{ZT,esti} in Ω"}},
    "shape": {"field": "h", "type": "ordinal", "scale": {"domain": [2, 4, 6], "range": ["circle", "diamond", "square"]}, "legend": {"orient": "none", "legendX": 0, "legendY": 552, "direction": "horizontal", "title": null, "labelExpr": "'h = ' + datum.label + ' mm'"}},
    "stroke": {"field": "h", "type": "ordinal", "scale": {"domain": [2, 4, 6], "range": ["#0b3b74", "#66a838", "#f5a72e"]}, "legend": {"orient": "none", "legendX": 0, "legendY": 552, "direction": "horizontal", "title": null, "labelExpr": "'h = ' + datum.label + ' mm'"}},
    "fill": {"field": "h", "type": "ordinal", "scale": {"domain": [2, 4, 6], "range": ["#0b3b74", "transparent", "transparent"]}, "legend": {"orient": "none", "legendX": 0, "legendY": 552, "direction": "horizontal", "title": null, "labelExpr": "'h = ' + datum.label + ' mm'"}},
    "size": {"field": "h", "type": "quantitative", "scale": {"domain": [2, 4, 6, 7], "range": [45, 100, 20, 20]}, "legend": null},
    "strokeWidth": {"field": "h", "type": "quantitative", "scale": {"domain": [2, 4, 6, 8], "range": [1, 2, 3, 3]}, "legend": null}
   }}
 ]},
{"width": 233, "height": 120,
 "layer": [
  {"data": {"name": "m"}, "mark": {"type": "rule", "color": "#9a9a9a", "strokeWidth": 1, "strokeDash": [1.5, 6]}, "encoding": {"x": {"field": "f", "type": "quantitative", "scale": {"type": "log", "domain": [1e6, 3e9]}, "axis": {"values": [1e6, 1e7, 1e8, 1e9], "labelExpr": "datum.value < 5e6 ? '10⁶' : datum.value < 5e7 ? '10⁷' : datum.value < 5e8 ? '10⁸' : '10⁹'", "title": "frequency in Hz"}}}},
  {"data": {"name": "r"}, "transform": [{"filter": "datum.p == 6"}], "mark": {"type": "rule", "color": "#111111", "strokeWidth": 2}, "encoding": {"y": {"field": "r", "type": "quantitative", "scale": {"domain": [496, 504], "zero": false, "nice": false}, "axis": {"values": [496, 498, 500, 502, 504], "format": "~g", "title": null}}}},
  {"data": {"name": "d"}, "transform": [{"filter": "datum.p == 6"}], "mark": {"type": "point", "opacity": 1},
   "encoding": {
    "x": {"field": "f", "type": "quantitative", "scale": {"type": "log", "domain": [1e6, 3e9]}, "axis": {"values": [1e6, 1e7, 1e8, 1e9], "labelExpr": "datum.value < 5e6 ? '10⁶' : datum.value < 5e7 ? '10⁷' : datum.value < 5e8 ? '10⁸' : '10⁹'", "title": "frequency in Hz"}},
    "y": {"field": "v", "type": "quantitative", "scale": {"domain": [496, 504], "zero": false, "nice": false}, "axis": {"values": [496, 498, 500, 502, 504], "format": "~g", "title": null}},
    "shape": {"field": "h", "type": "ordinal", "scale": {"domain": [2, 4, 6], "range": ["circle", "diamond", "square"]}, "legend": {"orient": "none", "legendX": 0, "legendY": 552, "direction": "horizontal", "title": null, "labelExpr": "'h = ' + datum.label + ' mm'"}},
    "stroke": {"field": "h", "type": "ordinal", "scale": {"domain": [2, 4, 6], "range": ["#0b3b74", "#66a838", "#f5a72e"]}, "legend": {"orient": "none", "legendX": 0, "legendY": 552, "direction": "horizontal", "title": null, "labelExpr": "'h = ' + datum.label + ' mm'"}},
    "fill": {"field": "h", "type": "ordinal", "scale": {"domain": [2, 4, 6], "range": ["#0b3b74", "transparent", "transparent"]}, "legend": {"orient": "none", "legendX": 0, "legendY": 552, "direction": "horizontal", "title": null, "labelExpr": "'h = ' + datum.label + ' mm'"}},
    "size": {"field": "h", "type": "quantitative", "scale": {"domain": [2, 4, 6, 7], "range": [45, 100, 20, 20]}, "legend": null},
    "strokeWidth": {"field": "h", "type": "quantitative", "scale": {"domain": [2, 4, 6, 8], "range": [1, 2, 3, 3]}, "legend": null}
   }}
 ]}
]
}
